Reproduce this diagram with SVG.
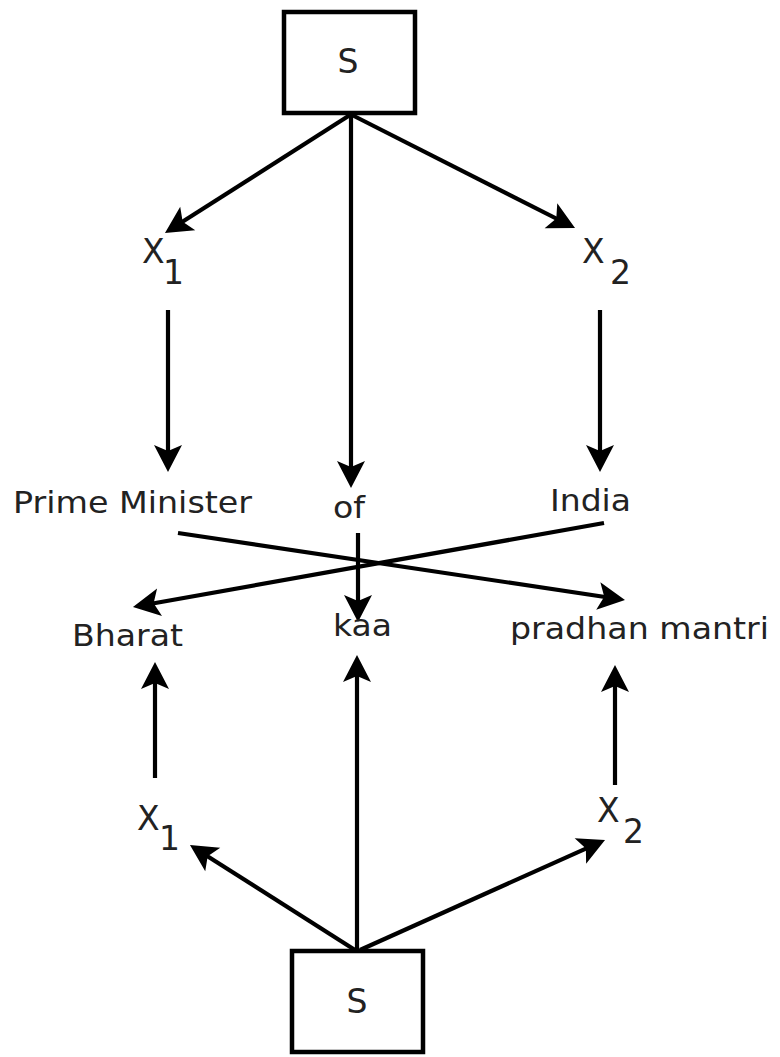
<svg xmlns="http://www.w3.org/2000/svg" width="780" height="1057" viewBox="0 0 780 1057">
  <style>
    .box { fill: #fff; stroke: #000; stroke-width: 4.5; }
    .lbl { font-family: "DejaVu Sans", "Liberation Sans", sans-serif; font-size: 30px; fill: #222; }
    .big { font-size: 33px; }
    .var { font-size: 33px; }
    .edge { stroke: #000; stroke-width: 4.2; fill: none; marker-end: url(#head); }
  </style>
  <defs>
    <marker id="head" markerUnits="userSpaceOnUse" viewBox="-30 -16 32 32" markerWidth="32" markerHeight="32" refX="-10" refY="0" orient="auto">
      <path d="M0,0 L-27,-14 L-21,0 L-27,14 Z" fill="#000"/>
    </marker>
  </defs>
  <rect width="780" height="1057" fill="#fff"/>

  <g id="connectors">
    <line class="edge" x1="350" y1="115" x2="173.4" y2="227.6"/>
    <line class="edge" x1="351" y1="115" x2="351" y2="478"/>
    <line class="edge" x1="352" y1="115" x2="566.1" y2="223.5"/>
    <line class="edge" x1="168" y1="310" x2="168" y2="462"/>
    <line class="edge" x1="600" y1="310" x2="600" y2="462"/>
    <line class="edge" x1="178" y1="533" x2="615.1" y2="598.5"/>
    <line class="edge" x1="604" y1="523" x2="142.8" y2="605.2"/>
    <line class="edge" x1="358" y1="533" x2="358" y2="612"/>
    <line class="edge" x1="155" y1="778" x2="155" y2="672"/>
    <line class="edge" x1="357" y1="950" x2="357" y2="665"/>
    <line class="edge" x1="615" y1="785" x2="615" y2="675"/>
    <line class="edge" x1="355" y1="950" x2="198.4" y2="850.4"/>
    <line class="edge" x1="360" y1="950" x2="595.9" y2="844.1"/>
  </g>

  <g id="s-top">
    <rect class="box" x="284" y="12" width="131" height="101"/>
    <text class="lbl big" x="348" y="73" text-anchor="middle">S</text>
  </g>
  <g id="x1-top">
    <text class="lbl var" x="142" y="263">X</text>
    <text class="lbl var" x="163" y="284">1</text>
  </g>
  <g id="x2-top">
    <text class="lbl var" x="582" y="263">X</text>
    <text class="lbl var" x="610" y="284">2</text>
  </g>
  <g id="prime-minister">
    <text class="lbl" x="13" y="513" textLength="239" lengthAdjust="spacingAndGlyphs">Prime Minister</text>
  </g>
  <g id="of">
    <text class="lbl" x="333" y="518" textLength="32" lengthAdjust="spacingAndGlyphs">of</text>
  </g>
  <g id="india">
    <text class="lbl" x="550" y="511" textLength="81" lengthAdjust="spacingAndGlyphs">India</text>
  </g>
  <g id="bharat">
    <text class="lbl" x="72" y="646" textLength="111" lengthAdjust="spacingAndGlyphs">Bharat</text>
  </g>
  <g id="kaa">
    <text class="lbl" x="333" y="636" textLength="59" lengthAdjust="spacingAndGlyphs">kaa</text>
  </g>
  <g id="pradhan-mantri">
    <text class="lbl" x="510" y="639" textLength="259" lengthAdjust="spacingAndGlyphs">pradhan mantri</text>
  </g>
  <g id="x1-bottom">
    <text class="lbl var" x="137" y="830">X</text>
    <text class="lbl var" x="159" y="850">1</text>
  </g>
  <g id="x2-bottom">
    <text class="lbl var" x="597" y="822">X</text>
    <text class="lbl var" x="623" y="843">2</text>
  </g>
  <g id="s-bottom">
    <rect class="box" x="292" y="951" width="131" height="101"/>
    <text class="lbl big" x="357" y="1013" text-anchor="middle">S</text>
  </g>
</svg>
